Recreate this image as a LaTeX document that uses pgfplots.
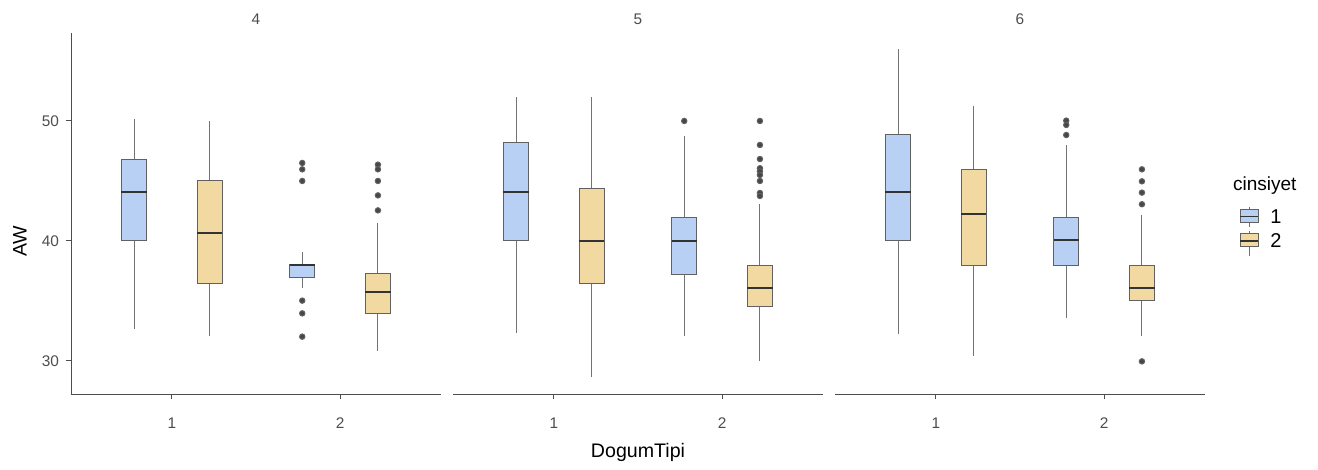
\documentclass[border=0pt]{standalone}
\usepackage{fontspec}
\setmainfont{Liberation Sans}
\usepackage{pgfplots}
\pgfplotsset{compat=1.18}
\usepgfplotslibrary{statistics}
\definecolor{cblue}{HTML}{B8D0F3}
\definecolor{ctan}{HTML}{F2D8A1}
\definecolor{gline}{HTML}{4D4D4D}
\definecolor{gtxt}{HTML}{4D4D4D}
\pgfplotsset{
  facet/.style={
    scale only axis, width=185pt, height=180.5pt,
    xmin=0.4, xmax=2.6, ymin=27.25, ymax=57.33,
    axis x line*=bottom,
    xtick={1,2}, xticklabels={1,2},
    ytick={30,40,50},
    tick align=outside, major tick length=2.5pt,
    tick style={gline, line width=0.5pt},
    axis line style={gline, line width=0.5pt},
    ticklabel style={font=\fontsize{7.7}{9}\selectfont, text=gtxt},
    xticklabel style={yshift=-6pt},
    /pgf/number format/assume math mode=true,
    title style={at={(0.5,1)}, anchor=center, yshift=1pt, font=\fontsize{7.7}{9}\selectfont, text=gtxt},
    clip=false,
    boxplot/draw direction=y,
    boxplot/every median/.style={line width=1pt, draw=black!80},
    boxplot/every whisker/.style={draw=black!55, line width=0.55pt},
    boxplot/every box/.style={draw=black!62, line width=0.5pt},
  },
  bpb/.style={fill=cblue, draw=black!62, line width=0.5pt, mark=*, mark size=1.35pt, mark options={fill=black!72, draw=none}},
  bpt/.style={fill=ctan, draw=black!62, line width=0.5pt, mark=*, mark size=1.35pt, mark options={fill=black!72, draw=none}},
}
\begin{document}
\begin{tikzpicture}
\path[use as bounding box] (0,0) rectangle (659pt,-235pt);
% ---------------- Panel 4
\begin{axis}[facet, at={(35.5pt,-197pt)}, anchor=south west, title=4,
  axis y line*=left,
]
\addplot[bpb, boxplot prepared={draw position=0.775, lower whisker=32.67, lower quartile=40.0, median=44.06, upper quartile=46.83, upper whisker=50.14, box extend=0.15, whisker extend=0}] coordinates {};
\addplot[bpt, boxplot prepared={draw position=1.225, lower whisker=32.08, lower quartile=36.42, median=40.64, upper quartile=45.0, upper whisker=49.97, box extend=0.15, whisker extend=0}] coordinates {};
\addplot[bpb, boxplot prepared={draw position=1.775, lower whisker=36.08, lower quartile=36.97, median=38.03, upper quartile=38.03, upper whisker=39.06, box extend=0.15, whisker extend=0}] table[row sep=\\, y index=0] {y\\ 46.5\\ 45.97\\ 45.0\\ 35.03\\ 33.97\\ 32.03\\};
\addplot[bpt, boxplot prepared={draw position=2.225, lower whisker=30.83, lower quartile=33.97, median=35.78, upper quartile=37.28, upper whisker=41.47, box extend=0.15, whisker extend=0}] table[row sep=\\, y index=0] {y\\ 46.36\\ 45.97\\ 45.0\\ 43.8\\ 42.55\\};
\end{axis}
% ---------------- Panel 5
\begin{axis}[facet, at={(226.5pt,-197pt)}, anchor=south west, title=5,
  axis y line=none,
  xlabel=DogumTipi,
  xlabel style={at={(axis description cs:0.5,-0.163)}, anchor=center, font=\fontsize{9.8}{11}\selectfont},
]
\addplot[bpb, boxplot prepared={draw position=0.775, lower whisker=32.3, lower quartile=40.0, median=44.06, upper quartile=48.22, upper whisker=52.03, box extend=0.15, whisker extend=0}] coordinates {};
\addplot[bpt, boxplot prepared={draw position=1.225, lower whisker=28.7, lower quartile=36.42, median=40.0, upper quartile=44.39, upper whisker=52.03, box extend=0.15, whisker extend=0}] coordinates {};
\addplot[bpb, boxplot prepared={draw position=1.775, lower whisker=32.08, lower quartile=37.2, median=40.0, upper quartile=41.97, upper whisker=48.78, box extend=0.15, whisker extend=0}] table[row sep=\\, y index=0] {y\\ 50.0\\};
\addplot[bpt, boxplot prepared={draw position=2.225, lower whisker=30.03, lower quartile=34.53, median=36.06, upper quartile=37.94, upper whisker=43.06, box extend=0.15, whisker extend=0}] table[row sep=\\, y index=0] {y\\ 50.0\\ 48.0\\ 46.83\\ 46.06\\ 45.8\\ 45.5\\ 45.0\\ 44.0\\ 43.75\\};
\end{axis}
% ---------------- Panel 6
\begin{axis}[facet, at={(417.5pt,-197pt)}, anchor=south west, title=6,
  axis y line=none,
]
\addplot[bpb, boxplot prepared={draw position=0.775, lower whisker=32.28, lower quartile=40.03, median=44.06, upper quartile=48.86, upper whisker=56.0, box extend=0.15, whisker extend=0}] coordinates {};
\addplot[bpt, boxplot prepared={draw position=1.225, lower whisker=30.44, lower quartile=37.94, median=42.22, upper quartile=45.94, upper whisker=51.22, box extend=0.15, whisker extend=0}] coordinates {};
\addplot[bpb, boxplot prepared={draw position=1.775, lower whisker=33.56, lower quartile=37.94, median=40.06, upper quartile=41.92, upper whisker=48.03, box extend=0.15, whisker extend=0}] table[row sep=\\, y index=0] {y\\ 50.03\\ 49.67\\ 48.83\\};
\addplot[bpt, boxplot prepared={draw position=2.225, lower whisker=32.11, lower quartile=35.03, median=36.06, upper quartile=37.94, upper whisker=42.17, box extend=0.15, whisker extend=0}] table[row sep=\\, y index=0] {y\\ 45.97\\ 44.97\\ 44.03\\ 43.06\\ 29.97\\};
\end{axis}
% ---------------- y axis title
\node[rotate=90, anchor=center, font=\fontsize{9.8}{11}\selectfont] at (10pt,-120.5pt) {AW};
% ---------------- Legend
\node[anchor=west, font=\fontsize{9.5}{10}\selectfont] at (613pt,-93pt) {cinsiyet};
\draw[black!55, line width=0.5pt] (624.5pt,-103.3pt) -- (624.5pt,-113.3pt);
\draw[fill=cblue, draw=black!62, line width=0.5pt] (620pt,-105pt) rectangle (629pt,-111.5pt);
\draw[black!80, line width=0.8pt] (620pt,-108.3pt) -- (629pt,-108.3pt);
\node[anchor=west, font=\fontsize{10}{11}\selectfont, inner sep=0pt] at (635pt,-108.3pt) {1};
\draw[black!55, line width=0.5pt] (624.5pt,-115.5pt) -- (624.5pt,-127.8pt);
\draw[fill=ctan, draw=black!62, line width=0.5pt] (620pt,-117pt) rectangle (629pt,-123.5pt);
\draw[black!80, line width=0.8pt] (620pt,-120.5pt) -- (629pt,-120.5pt);
\node[anchor=west, font=\fontsize{10}{11}\selectfont, inner sep=0pt] at (635pt,-120.5pt) {2};
\end{tikzpicture}
\end{document}
